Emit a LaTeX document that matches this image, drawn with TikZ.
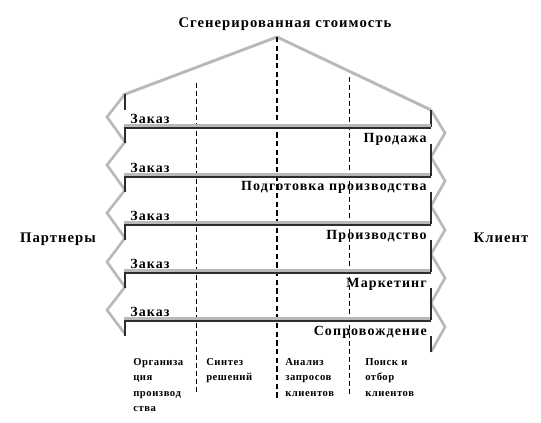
\documentclass[tikz,border=0pt]{standalone}
\usepackage{fontspec}
\setmainfont{Liberation Serif}
\usetikzlibrary{positioning}
\tikzstyle{roof} = [draw=gray!55, line width=2.2pt, line join=round]
\tikzstyle{barlight} = [draw=gray!55, line width=2.4pt]
\tikzstyle{bardark} = [draw=gray!35!black, line width=1.5pt]
\tikzstyle{zigzag} = [draw=gray!55, line width=2pt, line join=miter]
\tikzstyle{edgedark} = [draw=gray!35!black, line width=1.5pt]
\tikzstyle{divider} = [draw=black, line width=0.6pt, dash pattern=on 3.5pt off 2.5pt]
\tikzstyle{mainline} = [draw=black, line width=1.5pt, dash pattern=on 4pt off 2.5pt]
\tikzstyle{order} = [font=\bfseries\fontsize{10.5}{12}\selectfont\addfontfeatures{LetterSpace=8}, anchor=base west, inner sep=0pt]
\tikzstyle{stage} = [font=\bfseries\fontsize{10.5}{12}\selectfont\addfontfeatures{LetterSpace=8}, anchor=base east, inner sep=0pt]
\tikzstyle{side} = [font=\bfseries\fontsize{11}{13}\selectfont\addfontfeatures{LetterSpace=7}, anchor=base, inner sep=0pt]
\tikzstyle{column} = [font=\bfseries\fontsize{8}{11.6}\selectfont\addfontfeatures{LetterSpace=5}, align=left, anchor=north west, inner sep=0pt]

\begin{document}
\begin{tikzpicture}[x=0.75pt, y=-0.75pt]
			\useasboundingbox (0,0) rectangle (541,422);
			
			% Крыша
			\coordinate (roofL) at (123,95);
			\coordinate (roofT) at (277,37);
			\coordinate (roofR) at (431,110);
			\draw [roof] (roofL) -- (roofT) -- (roofR);
			
			% Линии разделения
			\draw [divider] (196,83) -- (196,394);
			\draw [divider] (349,77) -- (349,394);
			\draw [mainline] (roofT) -- (277,398);
			
			% Зигзаги слева и справа
			\draw [zigzag] (125,94) -- (107,117) -- (125,142) -- (107,165) -- (125,190)
				-- (107,213) -- (125,238) -- (107,262) -- (125,287) -- (107,310) -- (125,334);
			\draw [zigzag] (roofR) -- (445,133) -- (431,157) -- (445,181) -- (431,206)
				-- (445,230) -- (431,254) -- (445,278) -- (431,303) -- (445,327) -- (431,352);
			\draw [edgedark] (125,94) -- (125,110);
			\draw [edgedark] (431,110) -- (431,127);
			\draw [edgedark] (431,336) -- (431,352);
			
			% Полосы
			\foreach \y [count=\i] in {127,176,224,272,320} {
				\draw [barlight] (124,\y-1) -- (431,\y-1);
				\draw [bardark] (124,\y+0.5) -- (431,\y+0.5);
				\draw [edgedark] (125,\y) -- (125,\y+16);
				\ifnum\i>1
					\draw [edgedark] (431,\y-32) -- (431,\y);
				\fi
				\node (order\i) [order] at (130,\y-4) {Заказ};
			}
			
			% Подписи этапов
			\node (sale) [stage] at (427,142) {Продажа};
			\node (prep) [stage] at (427,190) {Подготовка производства};
			\node (prod) [stage] at (427,239) {Производство};
			\node (mark) [stage] at (427,287) {Маркетинг};
			\node (supp) [stage] at (427,335) {Сопровождение};
			
			% Заголовок и стороны
			\node (value) [side] at (285,27) {Сгенерированная стоимость};
			\node (partners) [side] at (58,242) {Партнеры};
			\node (client) [side] at (501,242) {Клиент};
			
			% Колонки внизу
			\node (col1) [column] at (133,358) {Организа\\ция\\производ\\ства};
			\node (col2) [column] at (206,358) {Синтез\\решений};
			\node (col3) [column] at (285,358) {Анализ\\запросов\\клиентов};
			\node (col4) [column] at (365,358) {Поиск и\\отбор\\клиентов};
			
		\end{tikzpicture}
\end{document}
